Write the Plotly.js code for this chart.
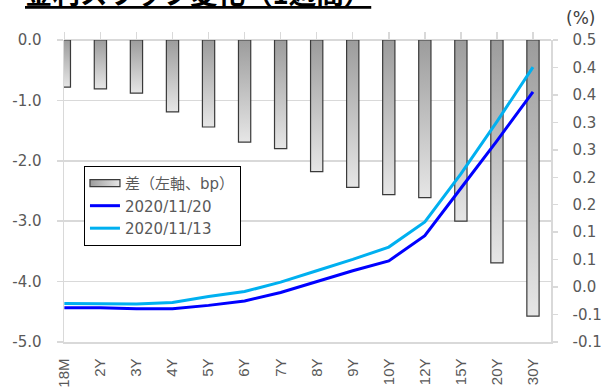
<!DOCTYPE html>
<html><head><meta charset="utf-8">
<script src="https://cdn.plot.ly/plotly-3.0.1.min.js"></script>
<style>body{margin:0;padding:0;background:#fff;} #chart{width:601px;height:387px;}</style>
</head><body><div id="chart"></div>
<script>
const categories = ['18M','2Y','3Y','4Y','5Y','6Y','7Y','8Y','9Y','10Y','12Y','15Y','20Y','30Y'];
const diffBp = [-0.78,-0.81,-0.88,-1.19,-1.44,-1.69,-1.80,-2.18,-2.44,-2.56,-2.61,-3.00,-3.69,-4.57];
const rate1120 = [-0.042,-0.042,-0.044,-0.044,-0.037,-0.028,-0.011,0.011,0.033,0.053,0.104,0.200,0.296,0.395];
const rate1113 = [-0.033,-0.033,-0.034,-0.031,-0.019,-0.009,0.010,0.033,0.056,0.081,0.132,0.229,0.335,0.445];
const seriesNames = ['差（左軸、bp）','2020/11/20','2020/11/13'];
const leftTickVals = [0,-1,-2,-3,-4,-5];
const leftTickText = ['0.0','-1.0','-2.0','-3.0','-4.0','-5.0'];
const rightRange = [-0.1111, 0.5];
const rightTickText = ['0.5','0.4','0.4','0.3','0.3','0.2','0.2','0.1','0.1','0.0','-0.1','-0.1'];
const rightTickVals = rightTickText.map((t,i)=> rightRange[1] - i*(rightRange[1]-rightRange[0])/(rightTickText.length-1));

const grid = '#d9d9d9';
const txt = '#595959';
const fontFam = '"DejaVu Sans", "Noto Sans CJK JP", sans-serif';

const traces = [
  {type:'bar', name:seriesNames[0], x:categories, y:diffBp, xaxis:'x', yaxis:'y', width:0.34,
   marker:{color:'#c4c4c4', line:{color:'#3a3a3a', width:1.2}}},
  {type:'scatter', mode:'lines', name:seriesNames[1], x:categories, y:rate1120, xaxis:'x2', yaxis:'y2',
   line:{color:'#0000ff', width:3}},
  {type:'scatter', mode:'lines', name:seriesNames[2], x:categories, y:rate1113, xaxis:'x2', yaxis:'y2',
   line:{color:'#00b0f0', width:3}}
];

const layout = {
  width:601, height:387,
  margin:{l:64, r:50, t:40, b:45, pad:0},
  paper_bgcolor:'#fff', plot_bgcolor:'#fff',
  font:{family:fontFam, color:txt, size:14},
  hovermode:false,
  showlegend:true,
  xaxis:{type:'category', range:[-0.01,13.5], tickangle:-90, ticks:'', showgrid:false,
    showline:true, linecolor:grid, linewidth:1.5, zeroline:false, anchor:'y', side:'bottom',
    tickfont:{size:15, color:txt, family:'"Liberation Sans", Arial, sans-serif'}, ticklabelstandoff:9},
  xaxis2:{type:'category', matches:'x', overlaying:'x', anchor:'y2', side:'top', ticks:'outside', ticklen:7,
    tickcolor:grid, tickwidth:1.5, showticklabels:false, showgrid:false, showline:false, zeroline:false},
  xaxis3:{type:'category', matches:'x', overlaying:'x', anchor:'y', side:'top', ticks:'inside', ticklen:5,
    tickcolor:grid, tickwidth:1.5, showticklabels:false, showgrid:false, showline:false, zeroline:false},
  yaxis:{range:[-5,0], tickvals:leftTickVals, ticktext:leftTickText, ticks:'outside', ticklen:6,
    tickcolor:grid, tickwidth:1.5, showgrid:true, gridcolor:grid, gridwidth:1.5,
    zeroline:true, zerolinecolor:grid, zerolinewidth:1.5, showline:true, linecolor:grid, linewidth:1.5,
    tickfont:{size:15, color:txt}, ticklabelstandoff:12},
  yaxis2:{range:rightRange, overlaying:'y', side:'right', anchor:'x2', tickvals:rightTickVals, ticktext:rightTickText,
    ticks:'outside', ticklen:5, tickcolor:grid, tickwidth:1.5, showgrid:false, zeroline:false,
    showline:true, linecolor:grid, linewidth:1.5, tickfont:{size:15, color:txt}, ticklabelstandoff:12},
  legend:{x:0.041, y:0.583, xanchor:'left', yanchor:'top', bgcolor:'#fff', bordercolor:'#000', borderwidth:1,
    font:{size:15, color:txt, family:fontFam}, traceorder:'normal'},
  annotations:[
    {text:'金利スワップ変化（1週間）', xref:'paper', yref:'paper', x:0.276, y:1.160, xanchor:'center', yanchor:'middle',
     showarrow:false, font:{size:27.5, color:'#000', family:'"Noto Sans CJK JP", sans-serif', weight:'bold', lineposition:'under'}},
    {text:'(%)', xref:'paper', yref:'paper', x:1.0616, y:1.073, xanchor:'center', yanchor:'middle', showarrow:false,
     font:{size:17, color:'#404040', family:fontFam}}
  ]
};

Plotly.newPlot('chart', traces, layout, {staticPlot:true, displayModeBar:false}).then(function(gd){
  const svg = gd.querySelector('svg.main-svg');
  const ns = 'http://www.w3.org/2000/svg';
  let defs = svg.querySelector('defs');
  if(!defs){ defs = document.createElementNS(ns,'defs'); svg.insertBefore(defs, svg.firstChild); }
  function grad(id, x2, y2){
    const g = document.createElementNS(ns,'linearGradient');
    g.setAttribute('id', id); g.setAttribute('x1','0'); g.setAttribute('y1','0');
    g.setAttribute('x2', x2); g.setAttribute('y2', y2);
    [['0','#9c9c9c'],['1','#e6e6e6']].forEach(function(s){
      const st = document.createElementNS(ns,'stop');
      st.setAttribute('offset', s[0]); st.setAttribute('stop-color', s[1]); g.appendChild(st);
    });
    defs.appendChild(g);
  }
  grad('barGradV','0','1');
  grad('barGradH','1','0');
  gd.querySelectorAll('.barlayer .point path').forEach(function(p){ p.style.fill = 'url(#barGradV)'; });
  const items = gd.querySelectorAll('.legend .traces');
  if(items.length){
    const bp = items[0].querySelector('.legendpoints path');
    if(bp){ bp.setAttribute('d','M15,3.5H-15V-3.5H15Z'); bp.style.fill = 'url(#barGradH)'; }
  }
});
</script>
</body></html>
